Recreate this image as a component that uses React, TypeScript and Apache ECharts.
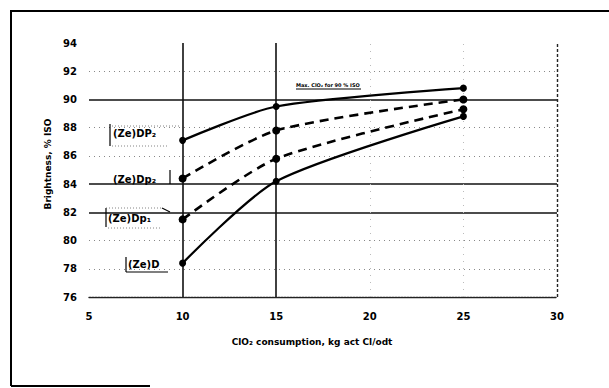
import React, { useEffect, useRef } from "react";
import * as echarts from "echarts";

const xValues = [10, 15, 25];
const zeDP2 = [87.1, 89.5, 90.8];
const zeDp2 = [84.4, 87.8, 90.0];
const zeDp1 = [81.5, 85.8, 89.3];
const zeD = [78.4, 84.2, 88.8];

const solidY = [90, 84, 82];
const dottedY = [92, 88, 86, 80, 78];
const solidX = [10, 15];
const dottedX = [20, 25];

const FONT = "DejaVu Sans";

export default function App() {
  const ref = useRef<HTMLDivElement>(null);
  useEffect(() => {
    if (!ref.current) return;
    const chart = echarts.init(ref.current, null, { renderer: "svg" });
    const pts = (ys: number[]) => xValues.map((x, i) => [x, ys[i]]);
    const lineSeries = (name: string, ys: number[], dashed: boolean) => ({
      name,
      type: "line",
      data: pts(ys),
      smooth: 0.25,
      symbol: "circle",
      symbolSize: dashed ? 8 : 7,
      itemStyle: { color: "#000" },
      lineStyle: {
        color: "#000",
        width: dashed ? 2.6 : 2.2,
        type: dashed ? [9, 6] : "solid",
      },
      z: 5,
    });
    const gridSeries = {
      type: "line",
      data: [],
      silent: true,
      markLine: {
        silent: true,
        symbol: "none",
        label: { show: false },
        animation: false,
        data: [
          ...solidY.map((v) => ({ yAxis: v, lineStyle: { color: "#111", width: 1.6, type: "solid" } })),
          ...dottedY.map((v) => ({ yAxis: v, lineStyle: { color: "#888", width: 1, type: [1, 4] } })),
          ...solidX.map((v) => ({ xAxis: v, lineStyle: { color: "#111", width: 1.6, type: "solid" } })),
          ...dottedX.map((v) => ({ xAxis: v, lineStyle: { color: "#bbb", width: 1, type: [1, 6] } })),
          { xAxis: 30, lineStyle: { color: "#222", width: 1.4, type: [3, 2] } },
        ],
      },
      z: 2,
    };
    const labelText = (text: string, x: number, y: number) => ({
      type: "text",
      x,
      y,
      style: { text, fill: "#000", font: `bold 10px "${FONT}"`, textVerticalAlign: "middle" },
      z: 10,
    });
    const seg = (x1: number, y1: number, x2: number, y2: number, dotted = false, w = 1.2) => ({
      type: "line",
      shape: { x1, y1, x2, y2 },
      style: { stroke: dotted ? "#666" : "#000", lineWidth: dotted ? 0.8 : w, lineDash: dotted ? [1, 2] : null },
      z: 10,
    });
    chart.setOption({
      animation: false,
      grid: { left: 89, right: 52, top: 43, bottom: 91 },
      xAxis: {
        type: "value",
        min: 5,
        max: 30,
        interval: 5,
        name: "ClO\u2082 consumption, kg act Cl/odt",
        nameLocation: "middle",
        nameGap: 40,
        nameTextStyle: { fontFamily: FONT, fontWeight: "bold", fontSize: 9, color: "#000", padding: [0, 22, 0, 0] },
        axisLine: { show: true, lineStyle: { color: "#222", width: 1.4, type: [2, 1] } },
        axisTick: { show: false },
        axisLabel: { fontFamily: FONT, fontWeight: "bold", fontSize: 10, color: "#000", margin: 14 },
        splitLine: { show: false },
      },
      yAxis: {
        type: "value",
        min: 76,
        max: 94,
        interval: 2,
        name: "Brightness, % ISO",
        nameLocation: "middle",
        nameGap: 36,
        nameTextStyle: { fontFamily: FONT, fontWeight: "bold", fontSize: 9, color: "#000", padding: [0, 0, 0, 12] },
        axisLine: { show: false },
        axisTick: { show: false },
        axisLabel: { fontFamily: FONT, fontWeight: "bold", fontSize: 10, color: "#000", margin: 12 },
        splitLine: { show: false },
      },
      series: [
        gridSeries,
        lineSeries("(Ze)DP2", zeDP2, false),
        lineSeries("(Ze)Dp2", zeDp2, true),
        lineSeries("(Ze)Dp1", zeDp1, true),
        lineSeries("(Ze)D", zeD, false),
      ],
      graphic: [
        seg(10, 11, 609, 11, false, 2),
        seg(11, 11, 11, 386, false, 2),
        seg(11, 386, 150, 386, false, 2),
        labelText("(Ze)DP\u2082", 113, 133),
        seg(110, 124, 110, 146),
        seg(112, 126, 180, 126, true),
        seg(112, 146, 168, 146, true),
        labelText("(Ze)Dp\u2082", 113, 179),
        seg(170, 170, 170, 184),
        labelText("(Ze)Dp\u2081", 108, 218),
        seg(106, 208, 106, 227),
        seg(106, 208, 162, 208, true),
        seg(162, 208, 170, 212),
        seg(108, 228, 160, 228, true),
        labelText("(Ze)D", 128, 264),
        seg(126, 257, 126, 272),
        seg(126, 272, 168, 272),
        {
          type: "text",
          x: 296,
          y: 82,
          style: { text: "Max. ClO\u2082 for 90 % ISO", fill: "#000", font: `bold 5px "${FONT}"` },
          z: 10,
        },
        seg(296, 89, 361, 89),
      ],
    });
    return () => chart.dispose();
  }, []);
  return (
    <div
      ref={ref}
      style={{ position: "fixed", left: 0, top: 0, width: 609, height: 388, background: "#fff" }}
    />
  );
}
